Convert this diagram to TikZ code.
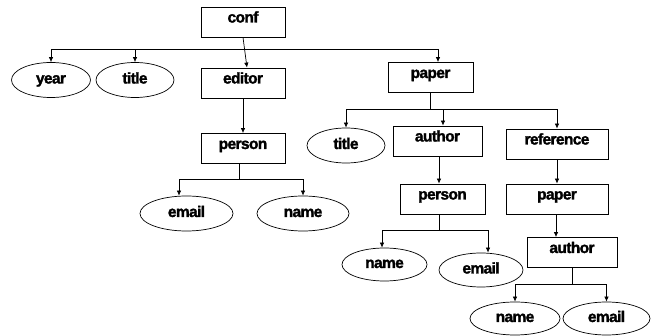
\documentclass[tikz,border=0pt]{standalone}
\usepackage{fontspec}
\setmainfont{Liberation Sans}
\newfontfamily\dfont{Liberation Sans Bold}[FakeBold=1.8, LetterSpace=-4]
\usetikzlibrary{shapes.geometric,arrows.meta}
\begin{document}
\begin{tikzpicture}[x=1pt,y=-1pt,
  every node/.style={font=\fontsize{15.5}{16}\dfont, inner sep=0pt},
  rbox/.style={draw, line width=0.8pt, rectangle, minimum width=#1, minimum height=30pt, text height=8pt, text depth=7pt},
  rbox/.default=84pt,
  ell/.style={draw, line width=0.7pt, ellipse, minimum width=#1, minimum height=35pt, text height=10pt, text depth=3pt},
  ell/.default=80pt,
  conn/.style={line width=0.7pt},
  arr/.style={line width=0.7pt, -{Latex[length=5pt,width=4.5pt]}}]
\useasboundingbox (0,0) rectangle (659,336);
% nodes
\node[rbox] (conf) at (243,22) {conf};
\node[ell=79pt] (year) at (51,80) {year};
\node[ell=78pt] (title1) at (135,80) {title};
\node[rbox] (editor) at (243,83) {editor};
\node[rbox=85pt] (paper) at (430.5,77.5) {paper};
\node[rbox] (person1) at (243,148.5) {person};
\node[ell=93pt] (email1) at (186.5,213.5) {email};
\node[ell=92pt] (name1) at (303,213.5) {name};
\node[ell=78pt] (title2) at (346,145.5) {title};
\node[rbox=89pt] (author1) at (437.5,141) {author};
\node[rbox=102pt] (reference) at (557,144) {reference};
\node[rbox=85pt] (person2) at (442.5,199) {person};
\node[rbox=102pt] (paper2) at (557,199) {paper};
\node[ell=85pt, minimum height=33pt] (name2) at (384.5,264.5) {name};
\node[ell=84pt, minimum height=34pt] (email2) at (481,270) {email};
\node[rbox=90pt] (author2) at (572,252.5) {author};
\node[ell=90pt, minimum height=33pt] (name3) at (515,318.5) {name};
\node[ell=87pt, minimum height=33pt] (email3) at (606.5,318.5) {email};
% connectors: conf
\coordinate (cj) at (244.5,49);
\draw[arr] (conf.south) -- ([xshift=4pt]editor.north);
\draw[arr] (cj) -| (year.north);
\draw[arr] (cj) -| (title1.north);
\draw[arr] (cj) -| ([xshift=7.5pt]paper.north);
% editor -> person
\draw[arr] (editor.south) -- (person1.north);
% person1
\coordinate (pj) at ([xshift=-4pt]person1.south |- 0,179);
\draw[conn] ([xshift=-4pt]person1.south) -- (pj);
\draw[arr] (pj) -| ([xshift=-7.5pt]email1.north);
\draw[arr] (pj) -| (name1.north);
% paper
\coordinate (paj) at (paper.south |- 0,109);
\draw[conn] (paper.south) -- (paj);
\draw[arr] (paj) -| (title2.north);
\draw[arr] (paj) -| ([xshift=5.5pt]author1.north);
\draw[arr] (paj) -| (reference.north);
% author1 -> person2
\draw[arr] ([xshift=1.5pt]author1.south) -- ([xshift=1.5pt]author1.south |- person2.north);
% person2
\coordinate (p2j) at ([xshift=-3.5pt]person2.south |- 0,230);
\draw[conn] ([xshift=-3.5pt]person2.south) -- (p2j);
\draw[arr] (p2j) -| ([xshift=-2.5pt]name2.north);
\draw[arr] (p2j) -| ([xshift=7pt]email2.north);
% reference -> paper2 -> author2
\draw[arr] (reference.south) -- (paper2.north);
\draw[arr] ([xshift=-1pt]paper2.south) -- ([xshift=-1pt]paper2.south |- author2.north);
% author2
\coordinate (a2j) at (author2.south |- 0,284);
\draw[conn] (author2.south) -- (a2j);
\draw[arr] (a2j) -| (name3.north);
\draw[arr] (a2j) -| (email3.north);
\end{tikzpicture}
\end{document}
